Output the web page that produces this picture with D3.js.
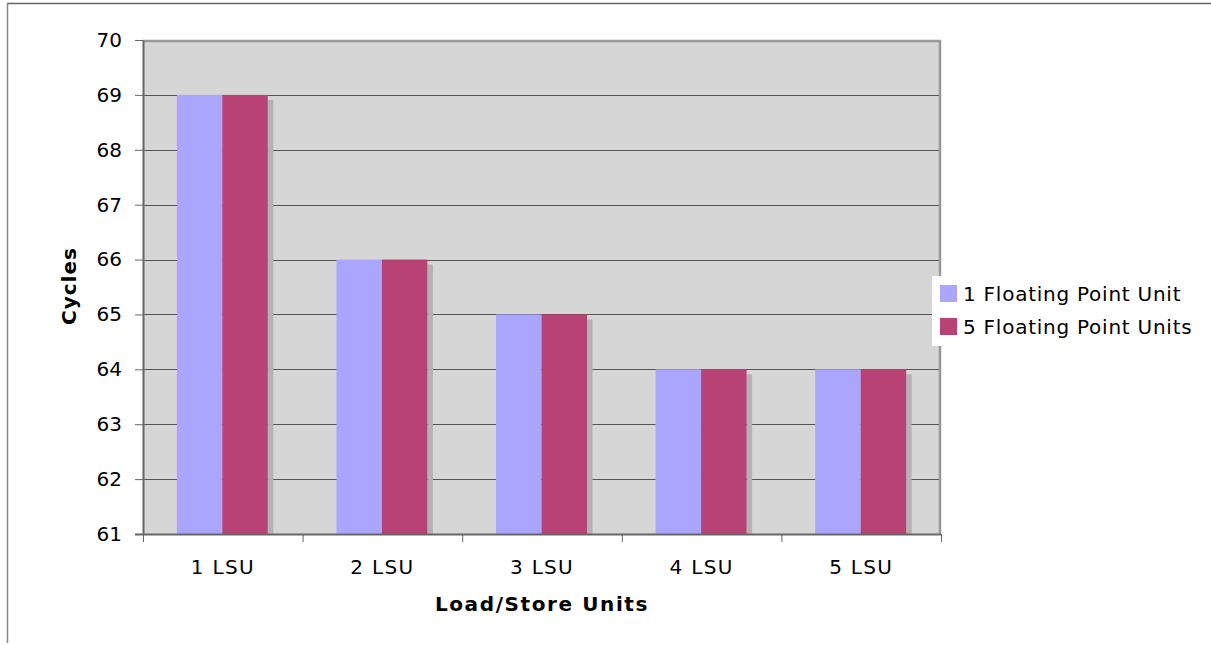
<!DOCTYPE html>
<html>
<head>
<meta charset="utf-8">
<script src="https://cdn.jsdelivr.net/npm/d3@7"></script>
<style>
  html, body { margin: 0; padding: 0; background: #ffffff; }
  svg { display: block; font-family: "DejaVu Sans", Verdana, sans-serif; }
</style>
</head>
<body>
<svg id="chart" width="1211" height="645"></svg>
<script>
// Cycle counts by number of load/store units, for two floating point configurations
const categories = ["1 LSU", "2 LSU", "3 LSU", "4 LSU", "5 LSU"];
const seriesNames = ["1 Floating Point Unit", "5 Floating Point Units"];
const fp1 = [69, 66, 65, 64, 64];
const fp5 = [69, 66, 65, 64, 64];
const yTicks = [61, 62, 63, 64, 65, 66, 67, 68, 69, 70];
const colors = ["#aaa6fe", "#b94274"];

const svg = d3.select("#chart");

// page frame lines
svg.append("line").attr("x1", 7).attr("x2", 1211).attr("y1", 3.5).attr("y2", 3.5)
  .attr("stroke", "#666").attr("stroke-width", 1.5);
svg.append("line").attr("x1", 7.5).attr("x2", 7.5).attr("y1", 3).attr("y2", 643)
  .attr("stroke", "#888").attr("stroke-width", 1.5);

const plot = { left: 143, right: 941, top: 40, bottom: 534 };

const x = d3.scaleBand().domain(categories).range([plot.left, plot.right]).paddingInner(0).paddingOuter(0);
const y = d3.scaleLinear().domain([61, 70]).range([plot.bottom, plot.top]);

// plot background
svg.append("rect")
  .attr("x", plot.left).attr("y", plot.top)
  .attr("width", plot.right - plot.left).attr("height", plot.bottom - plot.top)
  .attr("fill", "#d6d6d6");

// gridlines
svg.append("g").selectAll("line").data(yTicks.filter(t => t > 61 && t < 70)).join("line")
  .attr("x1", plot.left).attr("x2", plot.right)
  .attr("y1", d => Math.round(y(d)) + 0.5).attr("y2", d => Math.round(y(d)) + 0.5)
  .attr("stroke", "#555").attr("stroke-width", 1);

// plot border (top and right)
svg.append("path")
  .attr("d", `M${plot.left},${plot.top + 1} H${plot.right - 1} V${plot.bottom}`)
  .attr("fill", "none").attr("stroke", "#999").attr("stroke-width", 2.5);

const series = [fp1, fp5];
const bw = x.bandwidth();
const barW = 45.5;
const groupOffset = (bw - 2 * barW) / 2 - 0.5;

// drop shadow behind each bar pair
svg.append("g").selectAll("rect").data(categories).join("rect")
  .attr("x", (d, i) => x(d) + groupOffset + 2 * barW)
  .attr("y", (d, i) => y(Math.max(fp1[i], fp5[i])) + 5)
  .attr("width", 5.5)
  .attr("height", (d, i) => plot.bottom - y(Math.max(fp1[i], fp5[i])) - 5)
  .attr("fill", "#b3b3b3");

// bars
series.forEach((vals, s) => {
  svg.append("g").selectAll("rect").data(categories).join("rect")
    .attr("x", (d) => x(d) + groupOffset + s * barW)
    .attr("y", (d, i) => y(vals[i]))
    .attr("width", barW)
    .attr("height", (d, i) => plot.bottom - y(vals[i]))
    .attr("fill", colors[s]);
});

// y axis
const yAxis = d3.axisLeft(y).tickValues(yTicks).tickSize(8).tickPadding(13).tickSizeOuter(0);
const gy = svg.append("g").attr("transform", `translate(${plot.left},0)`).call(yAxis);
gy.select(".domain").attr("stroke", "#666").attr("stroke-width", 2);
gy.selectAll(".tick line").attr("stroke", "#666");
gy.selectAll(".tick text").attr("font-size", 20).attr("fill", "#000")
  .attr("font-family", "DejaVu Sans, Verdana, sans-serif");

// x axis: ticks at category boundaries
const boundaries = categories.map(c => x(c)).concat([plot.right]);
const gx = svg.append("g");
gx.append("line").attr("x1", plot.left - 8).attr("x2", plot.right)
  .attr("y1", plot.bottom + 0.5).attr("y2", plot.bottom + 0.5)
  .attr("stroke", "#666").attr("stroke-width", 2);
gx.selectAll("line.tk").data(boundaries).join("line").attr("class", "tk")
  .attr("x1", d => d + 0.5).attr("x2", d => d + 0.5)
  .attr("y1", plot.bottom).attr("y2", plot.bottom + 8)
  .attr("stroke", "#666").attr("stroke-width", 1);
gx.selectAll("text").data(categories).join("text")
  .attr("x", d => x(d) + bw / 2).attr("y", 574)
  .attr("text-anchor", "middle").attr("font-size", 20).attr("letter-spacing", 1.3)
  .attr("fill", "#000")
  .text(d => d);

// axis titles
svg.append("text").attr("x", (plot.left + plot.right) / 2).attr("y", 611)
  .attr("text-anchor", "middle").attr("font-size", 20).attr("font-weight", "bold")
  .attr("letter-spacing", 1.6)
  .text("Load/Store Units");
svg.append("text").attr("transform", "translate(76,286) rotate(-90)")
  .attr("text-anchor", "middle").attr("font-size", 20).attr("font-weight", "bold")
  .attr("letter-spacing", 1)
  .text("Cycles");

// legend
const legend = svg.append("g");
legend.append("rect").attr("x", 932).attr("y", 276).attr("width", 276).attr("height", 70)
  .attr("fill", "#fff");
seriesNames.forEach((name, i) => {
  legend.append("rect").attr("x", 940).attr("y", 285 + i * 33).attr("width", 17).attr("height", 17)
    .attr("fill", colors[i]);
  legend.append("text").attr("x", 963).attr("y", 300.5 + i * 33)
    .attr("font-size", 20).attr("letter-spacing", 0.75).attr("fill", "#000").text(name);
});
</script>
</body>
</html>
